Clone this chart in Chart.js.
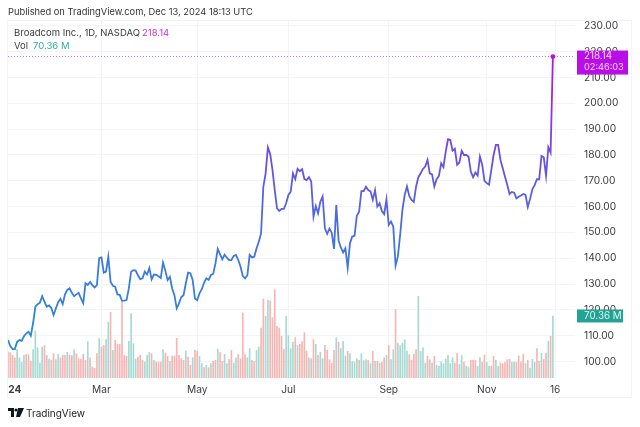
<!DOCTYPE html>
<html>
<head>
<meta charset="utf-8">
<script src="https://cdn.jsdelivr.net/npm/chart.js@4"></script>
<style>
body { margin: 0; background: #fff; font-family: Inter, "Liberation Sans", sans-serif; color: #3c3c40; }
#wrap { position: relative; width: 640px; height: 427px; overflow: hidden; }
#frame { position: absolute; left: 7px; top: 20px; width: 625px; height: 378px; border: 1px solid #f3f4f7; box-sizing: border-box; }
canvas { position: absolute; left: 0; top: 0; }
.txt { position: absolute; white-space: nowrap; font-size: 9.5px; line-height: 14px; }
</style>
</head>
<body>
<div id="wrap">
  <div id="frame"></div>
  <canvas id="chart" width="640" height="427"></canvas>
  <div class="txt" style="left:8px;top:5px;color:#333;font-size:9.3px">Published on TradingView.com, Dec 13, 2024 18:13 UTC</div>
  <div class="txt" style="left:14px;top:26px">Broadcom Inc., 1D, NASDAQ</div>
  <div class="txt" style="left:142px;top:26px;color:#c22ce6">218.14</div>
  <div class="txt" style="left:14px;top:39px">Vol</div>
  <div class="txt" style="left:33px;top:39px;color:#2fae9f">70.36 M</div>
  <svg style="position:absolute;left:8px;top:408px" width="16" height="10" viewBox="0 0 16 10">
    <path d="M0 0h6v9H3V3H0z M10 0h6l-4 9H8z" fill="#131722"/><circle cx="8" cy="2" r="1.6" fill="#131722"/>
  </svg>
  <div class="txt" style="left:26px;top:406px;font-size:10px;color:#222">TradingView</div>
</div>
<script>
var tickIndex = [3, 41, 83, 123, 167, 210, 240];
var tickLabels = ["24", "Mar", "May", "Jul", "Sep", "Nov", "16"];
var priceTicks = [100, 110, 120, 130, 140, 150, 160, 170, 180, 190, 200, 210, 220, 230];

var prices = [
  108.3, 106, 104.8, 104.8, 107.6, 108.3, 108, 109.8, 110.9, 111.5,
  110, 114.8, 121.2, 122.2, 122.8, 125.3, 123.2, 121.2, 121.7, 120.7,
  118, 120.5, 123, 124.3, 122.2, 126, 127.7, 128.3, 126.6, 125.3,
  126, 126.6, 124.4, 122.6, 130.3, 129.6, 130.8, 129.6, 128.7, 129.6,
  140, 140.3, 134.4, 134.8, 140.6, 130.9, 129.3, 129, 126, 125.8,
  123.5, 123.6, 123.8, 128.3, 134.8, 135.4, 135.2, 133.4, 131.9, 132.2,
  134.8, 133.7, 136.2, 131.8, 133.7, 133.6, 133, 132.3, 138.3, 135.2,
  131.5, 132.8, 128.3, 125.7, 120.6, 122.5, 125, 125.7, 130.3, 134.4,
  134.2, 131.6, 124.4, 123.7, 126.4, 128, 130.5, 132.2, 131.6, 133.5,
  133.9, 138, 143.6, 141.6, 139.6, 141.4, 140.2, 139.3, 139.3, 140.9,
  141.3, 139.3, 136.7, 133.1, 132.2, 133.4, 141.3, 140.3, 140.6, 143.8,
  146.4, 149.6, 167.7, 172.9, 182.9, 180.4, 174.2, 166.4, 159.3, 158.3,
  159.1, 159.1, 161.3, 164.5, 165.8, 172.9, 170.6, 174.6, 173.7, 174.5,
  170.7, 170.3, 171.4, 169.7, 156.1, 160.2, 157.4, 161.9, 163.9, 151.6,
  149.4, 151.5, 149.9, 143.6, 160.6, 146.8, 144.2, 142.2, 143.8, 136.3,
  145.8, 148.4, 148.7, 156.4, 158, 166, 166, 167.7, 166.4, 165.9,
  162.6, 166.4, 160, 161.3, 158.3, 157.1, 162.8, 152.9, 154.2, 152.2,
  137.1, 140.6, 149, 158.7, 164.5, 167.8, 164.1, 162.6, 161.8, 167.8,
  171.4, 172.9, 174.6, 175.5, 178.1, 172.9, 172.5, 167.8, 170.6, 171.9,
  176.8, 175.3, 181.3, 186.1, 185.8, 181.7, 182.4, 176.2, 177.1, 181.6,
  180, 180, 179.4, 173.6, 171.4, 173.2, 172, 179.4, 176.2, 170,
  169.1, 168.5, 174.2, 180, 183.9, 183.9, 178.1, 174.9, 171.6, 168.4,
  164.9, 165.7, 165.4, 163.2, 163.8, 164.3, 164.9, 164.5, 159.8, 163,
  166.7, 168.3, 170.6, 170.6, 179.6, 179.1, 171.9, 183, 180.9, 218.14
];

// volume in millions
var volumes = [
  29.5, 28.7, 25.7, 23, 32.5, 23, 17.8, 25.7, 26.8, 26.5,
  18.9, 32.1, 53.3, 34.4, 17, 35.2, 36.7, 25.7, 21.5, 20,
  27.6, 20.8, 26.8, 23, 25.7, 25.7, 29.1, 26.1, 25.3, 32.1,
  27.6, 21.9, 21.5, 26.8, 20, 41.2, 23, 12.5, 11, 27.6,
  44.6, 35.2, 37, 43.5, 63.1, 74.5, 31.4, 42.7, 38.2, 38.2,
  86.2, 25.7, 24.6, 41.6, 73, 38.9, 21.5, 23.8, 25.7, 20,
  18.1, 25.7, 29.1, 27.6, 20, 18.1, 18.1, 18.1, 32.1, 28.4,
  24.6, 18.9, 24.9, 24.9, 45, 25.7, 21.9, 20, 30.6, 23.8,
  14.4, 23, 31.4, 30.6, 24.6, 16.3, 11.7, 14.4, 11.7, 16.3,
  18.9, 20, 32.9, 28.7, 18.9, 26.8, 16.3, 21.2, 31.4, 17,
  23, 26.8, 21.9, 73.7, 26.5, 23, 33.3, 20, 18.9, 31.4,
  35.2, 56.7, 89.6, 69.9, 88.1, 87.3, 68.4, 100.2, 58.6, 56.7,
  47.3, 32.5, 69.9, 48, 33.3, 40.4, 45.7, 37, 38.2, 41.2,
  51.4, 30.6, 23, 21.9, 43.5, 38.2, 25.7, 29.1, 21.9, 37,
  31.4, 20.8, 17, 31.4, 45.7, 40.8, 33.3, 41.6, 24.9, 30.2,
  27.6, 18.9, 18.1, 21.9, 20, 27.6, 19.7, 20.8, 20, 16.3,
  30.2, 18.9, 18.9, 17, 18.1, 23, 25.7, 37, 20.8, 32.1,
  77.5, 39.7, 36.7, 39.7, 43.5, 30.6, 26.5, 20, 26.8, 32.1,
  92.6, 30.2, 34.4, 17, 24.6, 20.8, 17, 24.6, 14.7, 13.2,
  18.1, 16.3, 21.2, 25.7, 16.3, 23, 17, 27.6, 15.5, 25.3,
  18.1, 13.6, 12.5, 20, 20, 20, 13.2, 23, 18.1, 26.1,
  17.8, 13.2, 13.6, 24.6, 20, 13.2, 17, 16.3, 17.8, 20.8,
  21.2, 18.1, 18.1, 17.8, 24.9, 18.1, 26.8, 16.3, 20, 11.3,
  21.2, 17.8, 33.3, 18.9, 28, 21.2, 28.4, 41.6, 47.3, 70.36
];

// r = down day, g = up day
var volumeDir = (
  "rrrrggggrr" + "rgggggrrgr" + "rggrrrgrrg" + "rrrrrgrrrr" +
  "grrggrgrrr" + "rrrggggrrr" + "gggrgrrrgr" + "rgrrrrrrgr" +
  "rgrrggrgrg" + "rrgrrggrrg" + "grrrrggrrg" + "grrggrrrrr" +
  "rrggggrgrr" + "rrgrrgrggr" + "rrrrgrgggr" + "ggggrgggrg" +
  "rgrgrrgrgg" + "rgggggrrrr" + "ggggrrgrgg" + "ggggggrrgg" +
  "rggrrrggrr" + "ggrrggrrrr" + "rggrrrrgrg" + "ggrrgrrgrg"
).split("");

var lastPrice = prices[prices.length - 1];
var lastVolume = volumes[volumes.length - 1];
var xMax = 248.7;

function lineGradient(context) {
  var chart = context.chart;
  if (!chart.chartArea) return "#5b5be0";
  var y = chart.scales.y;
  var g = chart.ctx.createLinearGradient(0, y.getPixelForValue(105), 0, y.getPixelForValue(218));
  g.addColorStop(0, "#2b8ad6");
  g.addColorStop(0.3, "#3d79dc");
  g.addColorStop(0.65, "#6b50e0");
  g.addColorStop(1, "#b80fe6");
  return g;
}

var priceTags = {
  id: "priceTags",
  afterDraw: function (chart) {
    var c = chart.ctx;
    var yp = chart.scales.y.getPixelForValue(lastPrice);
    var yv = chart.scales.yVol.getPixelForValue(lastVolume);
    c.save();
    c.fillStyle = "#b80fe8";
    c.fillRect(577, yp - 6, 51, 24);
    c.fillStyle = "#22a394";
    c.fillRect(577, yv - 6.5, 46, 13);
    c.font = "9.8px Inter";
    c.textBaseline = "middle";
    c.fillStyle = "#f6d9fc";
    c.fillText(lastPrice.toFixed(2), 584, yp);
    c.font = "9.2px Inter";
    c.fillText("02:46:03", 584, yp + 11);
    c.font = "9.8px Inter";
    c.fillStyle = "#e4f5f2";
    c.fillText(lastVolume.toFixed(2) + " M", 584, yv);
    c.restore();
  }
};

new Chart(document.getElementById("chart"), {
  data: {
    datasets: [
      {
        type: "line",
        data: prices.map(function (v, i) { return { x: i, y: v }; }),
        borderColor: lineGradient,
        borderWidth: 1.8,
        tension: 0,
        pointRadius: function (ctx) { return ctx.dataIndex === prices.length - 1 ? 2.4 : 0; },
        pointBackgroundColor: "#b80fe6",
        pointBorderWidth: 0,
        yAxisID: "y",
        order: 1
      },
      {
        type: "line",
        data: [{ x: 0, y: lastPrice }, { x: xMax, y: lastPrice }],
        borderColor: "#cf62ee",
        borderWidth: 1,
        borderDash: [1, 2],
        pointRadius: 0,
        yAxisID: "y",
        order: 2
      },
      {
        type: "bar",
        data: volumes.map(function (v, i) { return { x: i, y: v }; }),
        backgroundColor: function (ctx) {
          return volumeDir[ctx.dataIndex] === "g" ? "#a5dad2" : "#f6b5b3";
        },
        barThickness: 1,
        yAxisID: "yVol",
        order: 3
      }
    ]
  },
  options: {
    responsive: false,
    animation: false,
    layout: { padding: { left: 8, top: 20, right: 0, bottom: 0 } },
    plugins: { legend: { display: false }, tooltip: { enabled: false } },
    scales: {
      x: {
        type: "linear",
        offset: false,
        min: 0,
        max: xMax,
        afterBuildTicks: function (scale) {
          scale.ticks = tickIndex.map(function (v) { return { value: v }; });
        },
        afterFit: function (scale) { scale.height = 49; },
        border: { display: false },
        grid: {
          offset: false,
          drawTicks: false,
          color: function (ctx) { return ctx.index === 0 ? "rgba(0,0,0,0)" : "#f3f4f7"; }
        },
        ticks: {
          autoSkip: false,
          maxRotation: 0,
          padding: 6,
          color: "#3c3c40",
          font: function (ctx) {
            return { family: "Inter", size: 10.2, weight: ctx.index === 0 ? "bold" : "normal" };
          },
          callback: function (v, i) { return tickLabels[i]; }
        }
      },
      y: {
        position: "right",
        min: 93.6,
        max: 232.3,
        afterBuildTicks: function (scale) {
          scale.ticks = priceTicks.map(function (v) { return { value: v }; });
        },
        afterFit: function (scale) { scale.width = 65; },
        border: { display: false },
        grid: { drawTicks: false, color: "#f3f4f7" },
        ticks: {
          padding: 9,
          color: "#3c3c40",
          font: { family: "Inter", size: 10.2 },
          callback: function (v) { return v.toFixed(2); }
        }
      },
      yVol: { display: false, min: 0, max: 406 }
    }
  },
  plugins: [priceTags]
});
</script>
</body>
</html>
